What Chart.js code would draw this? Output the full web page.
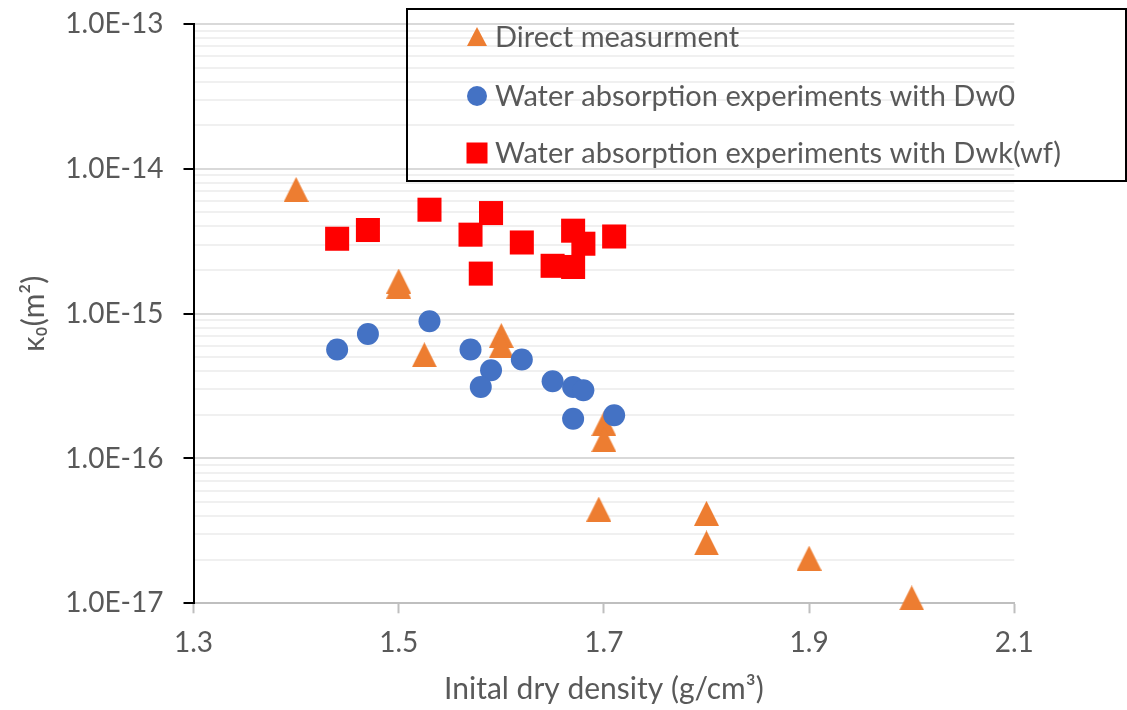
<!DOCTYPE html>
<html>
<head>
<meta charset="utf-8">
<script src="https://cdn.jsdelivr.net/npm/chart.js@4.4.1/dist/chart.umd.min.js"></script>
<style>
  html, body { margin: 0; padding: 0; background: #fff; }
  #wrap { width: 1127px; height: 710px; }
</style>
</head>
<body>
<div id="wrap"><canvas id="mycanvas" width="1127" height="710"></canvas></div>
<script>
// series labels
var seriesNames = ['Direct measurment', 'Water absorption experiments with Dw0', 'Water absorption experiments with Dwk(wf)'];

// Direct measurment (triangles)
var directX = [1.4, 1.5, 1.5, 1.525, 1.6, 1.6, 1.7, 1.7, 1.695, 1.8, 1.8, 1.9, 2.0];
var directY = [7.2e-15, 1.68e-15, 1.55e-15, 5.2e-16, 7.06e-16, 6.0e-16, 1.74e-16, 1.35e-16, 4.47e-17, 4.18e-17, 2.61e-17, 2.05e-17, 1.09e-17];

// Dw0 (circles)
var dw0X = [1.44, 1.47, 1.53, 1.57, 1.59, 1.58, 1.62, 1.65, 1.67, 1.68, 1.67, 1.71];
var dw0Y = [5.65e-16, 7.24e-16, 8.85e-16, 5.65e-16, 4.06e-16, 3.12e-16, 4.82e-16, 3.41e-16, 3.12e-16, 2.96e-16, 1.88e-16, 1.99e-16];

// Dwk(wf) (squares)
var dwkX = [1.44, 1.47, 1.53, 1.57, 1.59, 1.58, 1.62, 1.65, 1.67, 1.68, 1.67, 1.71];
var dwkY = [3.29e-15, 3.78e-15, 5.22e-15, 3.51e-15, 4.95e-15, 1.89e-15, 3.1e-15, 2.14e-15, 3.74e-15, 3.04e-15, 2.1e-15, 3.41e-15];

// axes
var xTicks = [1.3, 1.5, 1.7, 1.9, 2.1];
var yDecades = [1e-17, 1e-16, 1e-15, 1e-14, 1e-13];
var yTickLabels = ['1.0E-17', '1.0E-16', '1.0E-15', '1.0E-14', '1.0E-13'];
var yMinorSteps = [1, 2, 3, 4, 5, 6, 7, 8, 9];

var ORANGE = '#ED7D31', BLUE = '#4472C4', RED = '#FF0000';
var TXT = '#595959';
var FONT = 'Lato, "Open Sans", sans-serif';

function pairs(xs, ys) {
  var out = [];
  for (var i in xs) out.push({x: xs[i], y: ys[i]});
  return out;
}

function isDecade(v) {
  var l = Math.log10(v);
  return Math.abs(l - Math.round(l)) < 1e-6;
}

function triangleImage(w, h, color) {
  var c = document.createElement('canvas');
  c.width = w; c.height = h;
  var g = c.getContext('2d');
  g.fillStyle = color;
  g.beginPath();
  g.moveTo(w / 2, 0);
  g.lineTo(w, h);
  g.lineTo(0, h);
  g.closePath();
  g.fill();
  return c;
}

var triBig = triangleImage(25, 25, ORANGE);

// legend drawn as a framed box over the plot
var boxLegend = {
  id: 'boxLegend',
  afterDraw: function(chart) {
    var ctx = chart.ctx;
    ctx.save();
    ctx.strokeStyle = '#000';
    ctx.lineWidth = 2;
    ctx.strokeRect(407, 9, 719, 172);

    var mx = 477;
    var rows = [37, 96, 153];
    // triangle
    ctx.fillStyle = ORANGE;
    ctx.beginPath();
    ctx.moveTo(mx, rows[0] - 10);
    ctx.lineTo(mx + 10, rows[0] + 9);
    ctx.lineTo(mx - 10, rows[0] + 9);
    ctx.closePath();
    ctx.fill();
    // circle
    ctx.fillStyle = BLUE;
    ctx.beginPath();
    ctx.arc(mx, rows[1], 10, 0, Math.PI * 2);
    ctx.fill();
    // square
    ctx.fillStyle = RED;
    ctx.fillRect(mx - 10.5, rows[2] - 10.5, 21, 21);

    ctx.fillStyle = TXT;
    ctx.font = '29px ' + FONT;
    ctx.textBaseline = 'middle';
    ctx.textAlign = 'left';
    for (var i = 0; i < seriesNames.length; i++) {
      ctx.fillText(seriesNames[i], 495, rows[i] + 1);
    }
    ctx.restore();
  }
};

var ctx = document.getElementById('mycanvas');

var chartdata = {
  datasets: [
    {
      label: seriesNames[0],
      data: pairs(directX, directY),
      pointStyle: triBig,
      pointRadius: 13,
      backgroundColor: ORANGE,
      borderWidth: 0,
      order: 3,
      clip: false
    },
    {
      label: seriesNames[1],
      data: pairs(dw0X, dw0Y),
      pointStyle: 'circle',
      pointRadius: 11,
      backgroundColor: BLUE,
      borderColor: BLUE,
      borderWidth: 0,
      order: 2,
      clip: false
    },
    {
      label: seriesNames[2],
      data: pairs(dwkX, dwkY),
      pointStyle: 'rect',
      pointRadius: 17,
      backgroundColor: RED,
      borderColor: RED,
      borderWidth: 0,
      order: 1,
      clip: false
    }
  ]
};

var chart = new Chart(ctx, {
  type: 'scatter',
  data: chartdata,
  plugins: [boxLegend],
  options: {
    responsive: false,
    animation: false,
    devicePixelRatio: 1,
    layout: { padding: { top: 24, right: 112.7, left: 0, bottom: 0 } },
    plugins: {
      legend: { display: false },
      tooltip: { enabled: false }
    },
    scales: {
      x: {
        type: 'linear',
        min: xTicks[0],
        max: xTicks[xTicks.length - 1],
        afterBuildTicks: function(scale) {
          scale.ticks = xTicks.map(function(v) { return {value: v}; });
        },
        afterFit: function(scale) { scale.height = 106.7; },
        border: { color: '#BFBFBF', width: 2 },
        grid: {
          drawOnChartArea: false,
          drawTicks: true,
          tickLength: 10,
          tickColor: '#BFBFBF',
          tickWidth: 2
        },
        ticks: {
          autoSkip: false,
          maxRotation: 0,
          padding: 13,
          color: TXT,
          font: { family: FONT, size: 28 },
          callback: function(v) { return Number(v).toFixed(1); }
        },
        title: {
          display: true,
          text: 'Inital dry density (g/cm³)',
          color: TXT,
          font: { family: FONT, size: 30 },
          padding: { top: 0, bottom: 3 }
        }
      },
      y: {
        type: 'logarithmic',
        min: yDecades[0],
        max: yDecades[yDecades.length - 1],
        afterBuildTicks: function(scale) {
          var t = [];
          for (var d = 0; d < yDecades.length; d++) {
            for (var s = 0; s < yMinorSteps.length; s++) {
              if (d === yDecades.length - 1 && s > 0) break;
              t.push({value: yDecades[d] * yMinorSteps[s]});
            }
          }
          scale.ticks = t;
        },
        afterFit: function(scale) {
          scale.width = 193.5;
          scale.paddingTop = 0;
          scale.paddingBottom = 0;
        },
        border: { color: '#000000', width: 2 },
        grid: {
          color: function(c) { return c.tick && isDecade(c.tick.value) ? '#D9D9D9' : '#F0F0F0'; },
          lineWidth: 2,
          tickLength: 10,
          tickColor: function(c) { return c.tick && isDecade(c.tick.value) ? '#000000' : 'rgba(0,0,0,0)'; },
          tickWidth: 2
        },
        ticks: {
          autoSkip: false,
          padding: 20,
          color: TXT,
          font: { family: FONT, size: 28 },
          callback: function(v) {
            for (var i = 0; i < yDecades.length; i++) {
              if (Math.abs(Math.log10(v) - Math.log10(yDecades[i])) < 1e-6) return yTickLabels[i];
            }
            return '';
          }
        },
        title: {
          display: true,
          text: 'κ₀(m²)',
          color: TXT,
          font: { family: FONT, size: 30 },
          padding: { top: 16, bottom: 0 }
        }
      }
    }
  }
});
</script>
</body>
</html>
